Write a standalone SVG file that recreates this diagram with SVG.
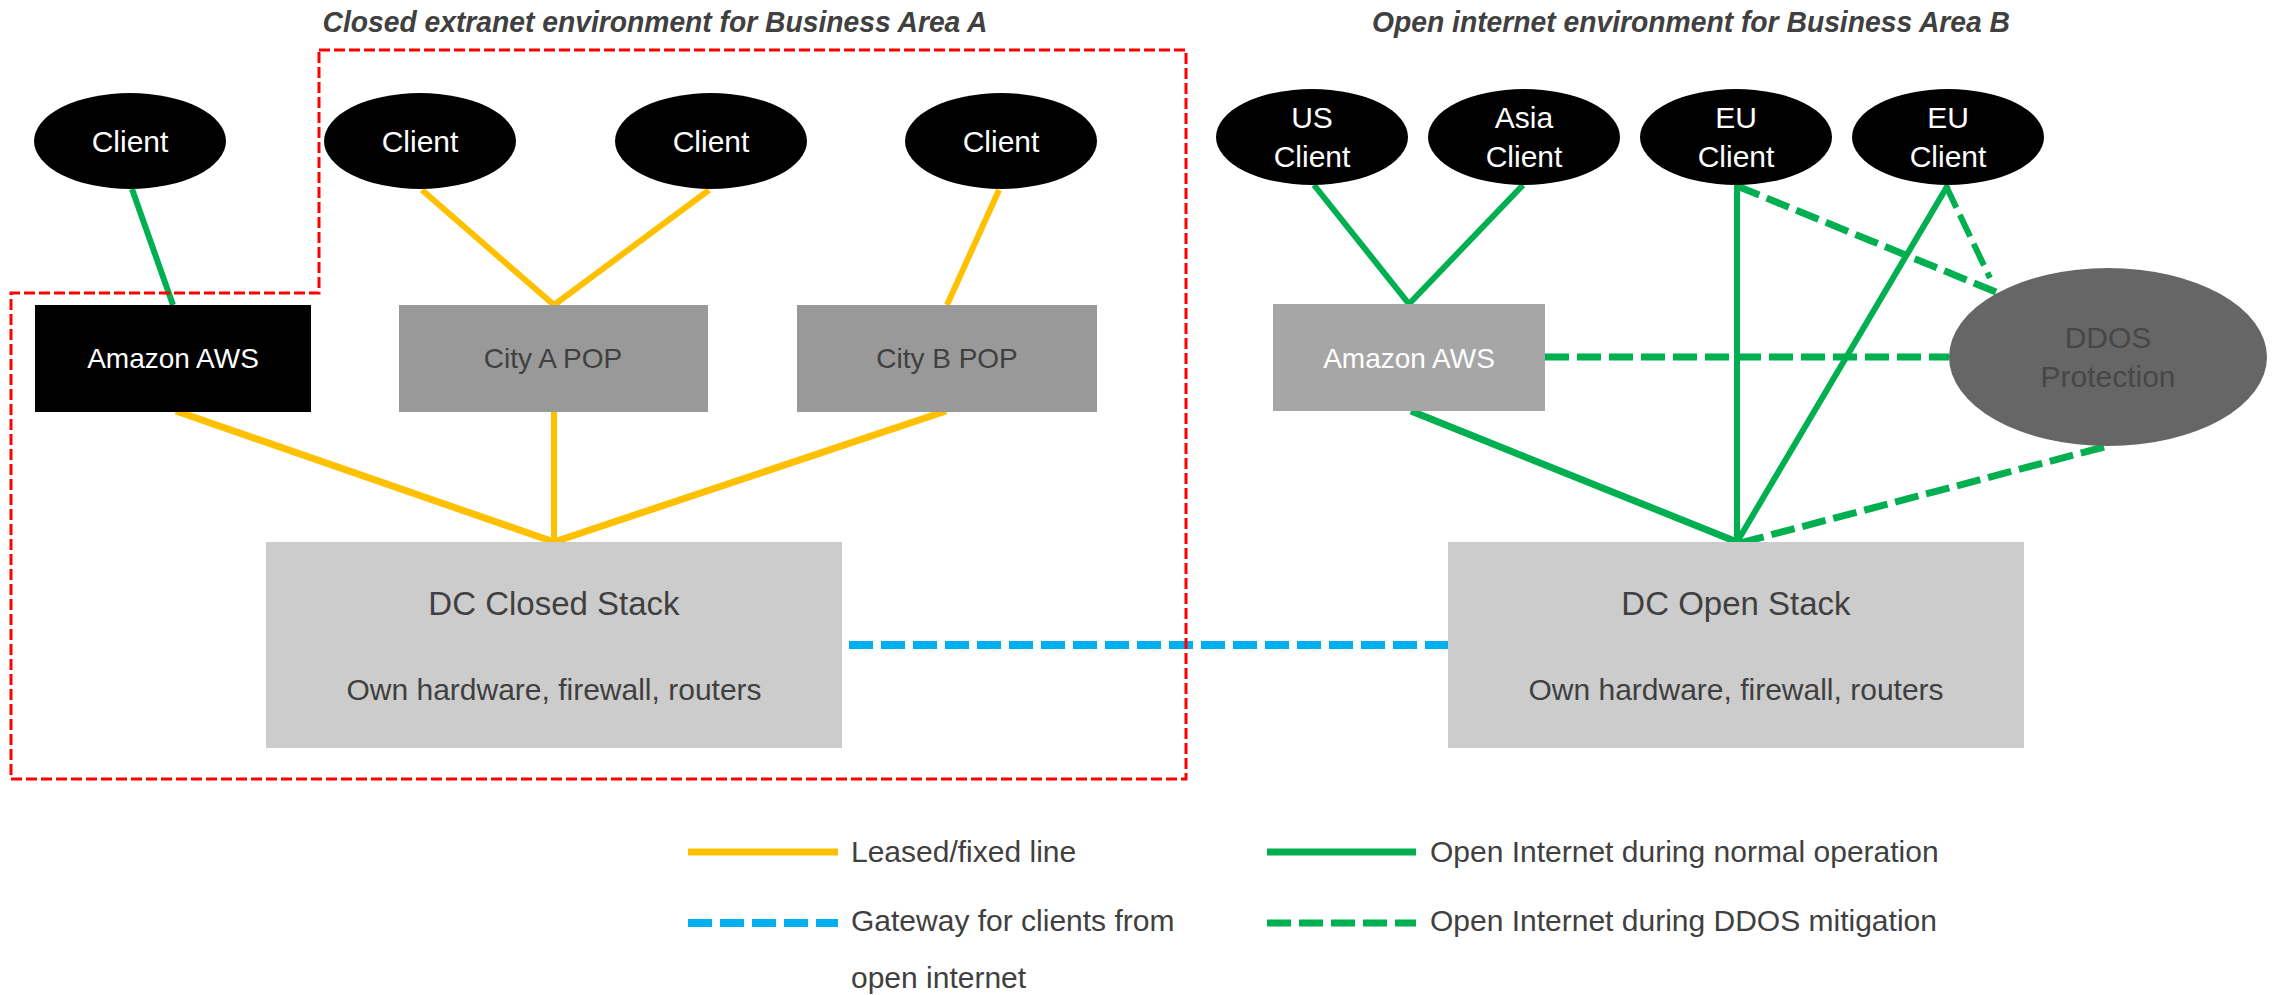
<svg xmlns="http://www.w3.org/2000/svg" width="2279" height="995" viewBox="0 0 2279 995">
<style>
text { font-family: "Liberation Sans", Arial, sans-serif; }
.title { font-size: 29px; font-weight: bold; font-style: italic; fill: #404040; text-anchor: middle; }
.wt { fill: #ffffff; text-anchor: middle; }
.dt { fill: #404040; text-anchor: middle; }
.leg { fill: #404040; font-size: 30px; }
.yl { stroke: #FFC000; stroke-width: 6; fill: none; }
.gs { stroke: #00B050; stroke-width: 6; fill: none; }
.gd { stroke: #00B050; stroke-width: 7; stroke-dasharray: 24 8; fill: none; }
.bd { stroke: #00B0F0; stroke-width: 8; stroke-dasharray: 24 8; fill: none; }
.client { fill: #000000; }
</style>
<rect width="2279" height="995" fill="#ffffff"/>

<text class="title" x="655" y="32" textLength="665" lengthAdjust="spacingAndGlyphs">Closed extranet environment for Business Area A</text>
<text class="title" x="1691" y="32" textLength="638" lengthAdjust="spacingAndGlyphs">Open internet environment for Business Area B</text>

<g id="connectors">
  <line class="bd" x1="849" y1="645" x2="1448" y2="645"/>
  <line class="yl" x1="422" y1="190" x2="554" y2="305"/>
  <line class="yl" x1="709" y1="190" x2="554" y2="305"/>
  <line class="yl" x1="999" y1="190" x2="947" y2="305"/>
  <line class="yl" style="stroke-width:7" x1="176" y1="411" x2="554" y2="542"/>
  <line class="yl" x1="554" y1="412" x2="554" y2="542"/>
  <line class="yl" style="stroke-width:7" x1="946" y1="411" x2="554" y2="542"/>
  <line class="gs" x1="132" y1="189" x2="173" y2="305"/>
  <line class="gs" x1="1314" y1="185" x2="1409" y2="304"/>
  <line class="gs" x1="1523" y1="185" x2="1409" y2="304"/>
  <line class="gs" x1="1737" y1="185" x2="1737" y2="542"/>
  <line class="gs" x1="1948" y1="185" x2="1737" y2="542"/>
  <line class="gs" style="stroke-width:7" x1="1411" y1="411" x2="1737" y2="542"/>
  <line class="gd" x1="1737" y1="186" x2="1996" y2="292"/>
  <line class="gd" style="stroke-width:6" x1="1946" y1="186" x2="1990" y2="278"/>
  <line class="gd" x1="1545" y1="357" x2="1949" y2="357"/>
  <line class="gd" x1="2104" y1="447" x2="1740" y2="543"/>
</g>

<g id="client-a1"><ellipse class="client" cx="130" cy="141" rx="96" ry="48"/><text class="wt" x="130" y="152" font-size="30">Client</text></g>
<g id="client-a2"><ellipse class="client" cx="420" cy="141" rx="96" ry="48"/><text class="wt" x="420" y="152" font-size="30">Client</text></g>
<g id="client-a3"><ellipse class="client" cx="711" cy="141" rx="96" ry="48"/><text class="wt" x="711" y="152" font-size="30">Client</text></g>
<g id="client-a4"><ellipse class="client" cx="1001" cy="141" rx="96" ry="48"/><text class="wt" x="1001" y="152" font-size="30">Client</text></g>

<g id="aws-a"><rect x="35" y="305" width="276" height="107" fill="#000000"/><text class="wt" x="173" y="368" font-size="28">Amazon AWS</text></g>
<g id="city-a"><rect x="399" y="305" width="309" height="107" fill="#999999"/><text class="dt" x="553" y="368" font-size="28">City A POP</text></g>
<g id="city-b"><rect x="797" y="305" width="300" height="107" fill="#999999"/><text class="dt" x="947" y="368" font-size="28">City B POP</text></g>
<g id="dc-closed"><rect x="266" y="542" width="576" height="206" fill="#CCCCCC"/><text class="dt" x="554" y="615" font-size="33">DC Closed Stack</text><text class="dt" x="554" y="700" font-size="30">Own hardware, firewall, routers</text></g>

<g id="client-us"><ellipse class="client" cx="1312" cy="137" rx="96" ry="48"/><text class="wt" font-size="30"><tspan x="1312" y="128">US</tspan><tspan x="1312" y="167">Client</tspan></text></g>
<g id="client-asia"><ellipse class="client" cx="1524" cy="137" rx="96" ry="48"/><text class="wt" font-size="30"><tspan x="1524" y="128">Asia</tspan><tspan x="1524" y="167">Client</tspan></text></g>
<g id="client-eu1"><ellipse class="client" cx="1736" cy="137" rx="96" ry="48"/><text class="wt" font-size="30"><tspan x="1736" y="128">EU</tspan><tspan x="1736" y="167">Client</tspan></text></g>
<g id="client-eu2"><ellipse class="client" cx="1948" cy="137" rx="96" ry="48"/><text class="wt" font-size="30"><tspan x="1948" y="128">EU</tspan><tspan x="1948" y="167">Client</tspan></text></g>

<g id="aws-b"><rect x="1273" y="304" width="272" height="107" fill="#A6A6A6"/><text class="wt" x="1409" y="368" font-size="28">Amazon AWS</text></g>
<g id="ddos"><ellipse cx="2108" cy="357" rx="159" ry="89" fill="#666666"/><text class="dt" font-size="30" style="fill:#474747"><tspan x="2108" y="348">DDOS</tspan><tspan x="2108" y="387">Protection</tspan></text></g>
<g id="dc-open"><rect x="1448" y="542" width="576" height="206" fill="#CCCCCC"/><text class="dt" x="1736" y="615" font-size="33">DC Open Stack</text><text class="dt" x="1736" y="700" font-size="30">Own hardware, firewall, routers</text></g>

<g id="boundary-a">
  <path d="M319,50 H1186 V779 H11 V293 H319 Z" fill="none" stroke="#FF0000" stroke-width="3" stroke-dasharray="11 4"/>
</g>

<g id="legend">
  <line class="yl" style="stroke-width:7" x1="688" y1="852" x2="838" y2="852"/>
  <text class="leg" x="851" y="862">Leased/fixed line</text>
  <line class="gs" style="stroke-width:7" x1="1267" y1="852" x2="1416" y2="852"/>
  <text class="leg" x="1430" y="862">Open Internet during normal operation</text>
  <line class="bd" x1="688" y1="923" x2="838" y2="923"/>
  <text class="leg" x="851" y="931">Gateway for clients from</text>
  <text class="leg" x="851" y="988">open internet</text>
  <line class="gd" x1="1267" y1="923" x2="1416" y2="923"/>
  <text class="leg" x="1430" y="931">Open Internet during DDOS mitigation</text>
</g>
</svg>
